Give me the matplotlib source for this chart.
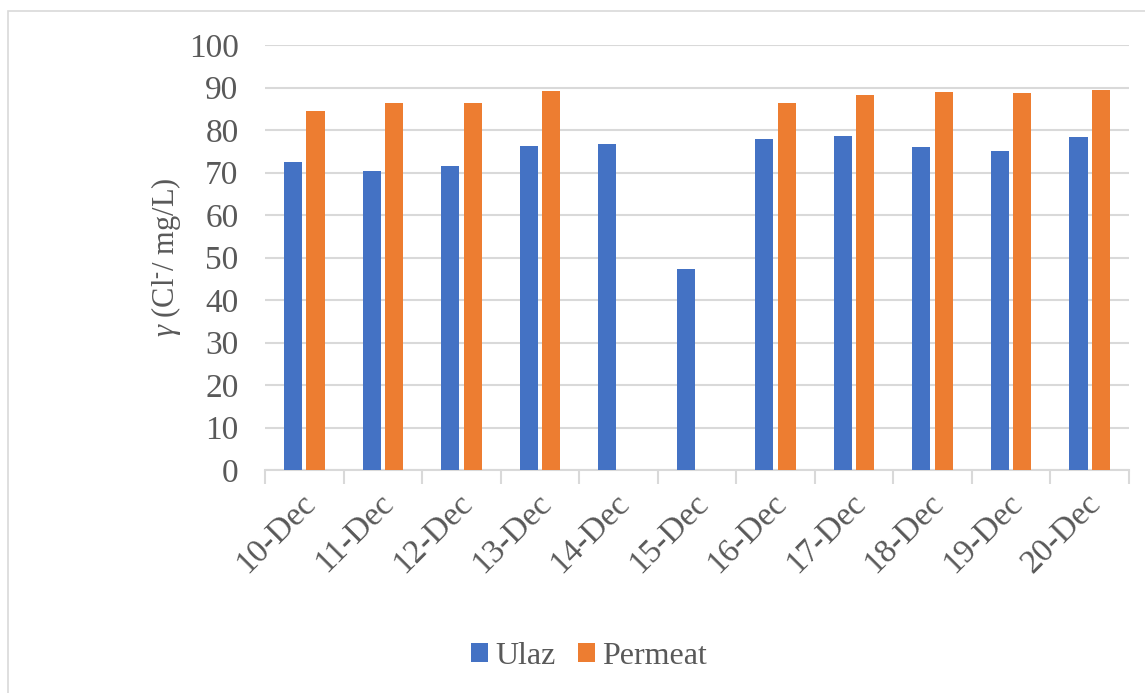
import matplotlib
matplotlib.use("Agg")
import matplotlib.pyplot as plt
import matplotlib.patches as mpatches
import numpy as np

plt.rcParams.update({
    "font.family": "serif",
    "font.serif": ["Liberation Serif", "DejaVu Serif"],
    "mathtext.fontset": "custom",
    "mathtext.rm": "Liberation Serif",
    "mathtext.it": "Liberation Serif:italic",
})

# data
dates = ["10-Dec", "11-Dec", "12-Dec", "13-Dec", "14-Dec", "15-Dec",
         "16-Dec", "17-Dec", "18-Dec", "19-Dec", "20-Dec"]
ulaz = [72.5, 70.3, 71.6, 76.3, 76.8, 47.4, 78.0, 78.6, 76.0, 75.0, 78.4]
permeat = [84.4, 86.4, 86.4, 89.2, np.nan, np.nan, 86.4, 88.3, 89.0, 88.8, 89.4]
series_names = ["Ulaz", "Permeat"]
yticks = list(range(0, 101, 10))

BLUE = "#4472C4"
ORANGE = "#ED7D31"
GRID = "#D9D9D9"
TXT = "#595959"

fig = plt.figure(figsize=(11.45, 6.93), dpi=100)
ax = fig.add_axes([265 / 1145, 1 - 470 / 693, 864 / 1145, 425 / 693])

# chart border (Excel chart area outline)
fig.patches.append(mpatches.Rectangle((8 / 1145, -0.05), 1.2, 1 - 11 / 693 + 0.05,
                                      transform=fig.transFigure, fill=False,
                                      edgecolor=GRID, linewidth=1.2))

x = np.arange(len(dates))
w = 0.23
off = 0.143
ax.bar(x - off, ulaz, w, color=BLUE, label=series_names[0], zorder=3)
ax.bar(x + off, permeat, w, color=ORANGE, label=series_names[1], zorder=3)

ax.set_xlim(-0.5, len(dates) - 0.5)
ax.set_ylim(0, 100)
ax.set_yticks(yticks)
ax.yaxis.grid(True, color=GRID, linewidth=1.5, zorder=0)
ax.set_axisbelow(True)
for s in ["top", "right", "left"]:
    ax.spines[s].set_visible(False)
ax.spines["bottom"].set_color(GRID)
ax.spines["bottom"].set_linewidth(1.5)
ax.tick_params(axis="y", length=0, pad=19, labelsize=24, labelcolor=TXT)

# ticks at category boundaries, labels at centers
ax.set_xticks(np.arange(len(dates) + 1) - 0.5)
ax.set_xticklabels([])
ax.tick_params(axis="x", which="major", length=10, width=1.5, color=GRID)
ax.set_xticks(x + 0.08, minor=True)
ax.set_xticklabels(dates, minor=True, rotation=45, ha="right", va="center",
                   rotation_mode="anchor", fontsize=24, color=TXT)
ax.tick_params(axis="x", which="minor", length=0, pad=21)

ax.set_ylabel(r"$\mathit{\gamma}$ (Cl$^{\text{-}}$/ mg/L)", fontsize=22, color=TXT,
              labelpad=4)

ax.legend(loc="center", bbox_to_anchor=(589 / 1145, 1 - 656 / 693),
          bbox_transform=fig.transFigure, ncol=2, frameon=False, fontsize=23,
          handlelength=0.55, handleheight=0.55, handletextpad=0.22,
          columnspacing=0.7, labelcolor=TXT)

fig.savefig("out.png", dpi=100)
